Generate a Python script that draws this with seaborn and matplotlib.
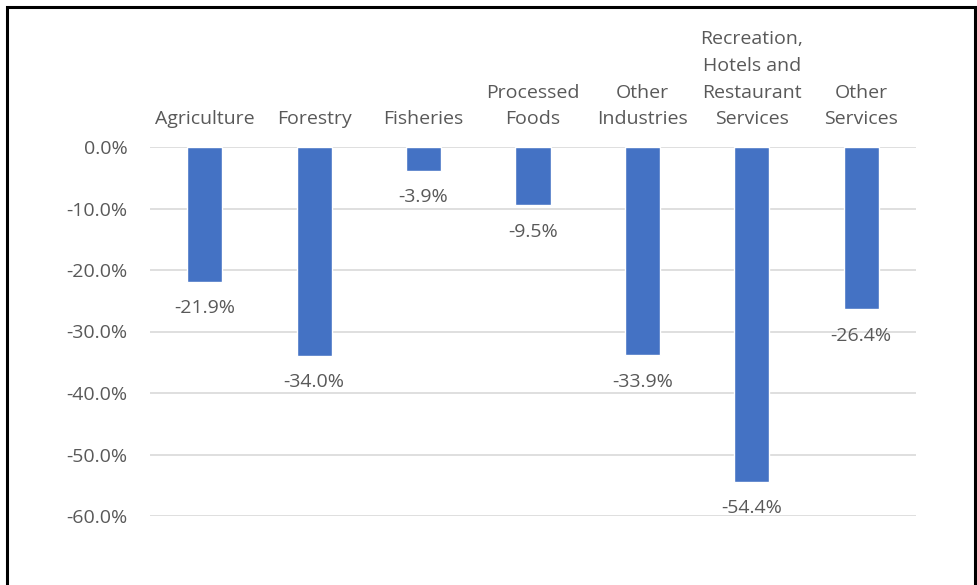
import matplotlib
matplotlib.use("Agg")
import matplotlib.pyplot as plt
import seaborn as sns
import pandas as pd
from matplotlib.patches import Rectangle

categories = ["Agriculture", "Forestry", "Fisheries", "Processed Foods",
              "Other Industries", "Recreation, Hotels and Restaurant Services",
              "Other Services"]
tick_labels = ["Agriculture", "Forestry", "Fisheries", "Processed\nFoods",
               "Other\nIndustries", "Recreation,\nHotels and\nRestaurant\nServices",
               "Other\nServices"]
values = [-21.9, -34.0, -3.9, -9.5, -33.9, -54.4, -26.4]
yticks = [0, -10, -20, -30, -40, -50, -60]

sns.set_theme(style="white")
plt.rcParams['font.family'] = ['Open Sans', 'DejaVu Sans']

text_color = "#595959"
bar_color = "#4472C4"
grid_color = "#D9D9D9"
fs = 14

fig = plt.figure(figsize=(9.77, 5.85), dpi=100)
ax = fig.add_axes([150/977, 1-516/585, (916-150)/977, (516-147)/585])

df = pd.DataFrame({"cat": categories, "val": values})
sns.barplot(data=df, x="cat", y="val", color=bar_color, width=0.32,
            saturation=1, ax=ax, zorder=3)

ax.set_ylim(-60, 0)
ax.set_yticks(yticks)
ax.set_yticklabels([f"{t:.1f}%" for t in yticks], color=text_color, fontsize=fs)
for t in yticks:
    ax.axhline(t, color=grid_color, lw=1.2, zorder=1)

ax.xaxis.tick_top()
ax.set_xticks(range(len(categories)))
ax.set_xticklabels(tick_labels, color=text_color, fontsize=fs, linespacing=1.62)
ax.tick_params(axis="x", length=0, pad=13.5)
ax.tick_params(axis="y", length=0, pad=16)
ax.set_xlabel("")
ax.set_ylabel("")
for s in ax.spines.values():
    s.set_visible(False)

for i, v in enumerate(values):
    ax.annotate(f"{v:.1f}%", (i, v), xytext=(0, -19), textcoords="offset points",
                ha="center", va="center", color=text_color, fontsize=fs,
                annotation_clip=False)

fig.patches.append(Rectangle((7/977, -0.05), (975-7)/977, 1-7/585+0.05,
                             transform=fig.transFigure, fill=False,
                             edgecolor="black", lw=2.2))

fig.savefig("out.png", dpi=100)
